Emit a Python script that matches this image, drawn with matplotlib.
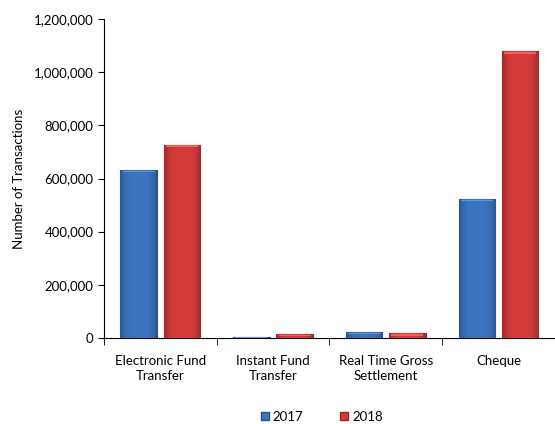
import numpy as np
import matplotlib.pyplot as plt
from matplotlib.colors import to_rgb
from matplotlib.patches import Patch

categories = ["Electronic Fund\nTransfer", "Instant Fund\nTransfer",
              "Real Time Gross\nSettlement", "Cheque"]
years = ["2017", "2018"]
vals_2017 = [632000, 5000, 22000, 523000]
vals_2018 = [727000, 14000, 17000, 1078000]
colors = ["#3b74bf", "#d63b3b"]

plt.rcParams["font.family"] = ["Lato", "DejaVu Sans"]

fig = plt.figure(figsize=(5.55, 4.24), dpi=100)
ax = fig.add_axes([0.187, 0.203, 0.813, 0.752])

x = np.arange(len(categories))
w = 0.322
gap = 0.03


def shaded_bar(xc, h, color):
    base = np.array(to_rgb(color))
    bar = ax.bar(xc, h, w, color=color, edgecolor=base * 0.7, linewidth=0.8, zorder=2)[0]
    # horizontal shading across the bar: dark rims, lighter middle
    t = np.linspace(-1, 1, 64)
    k = 1.0 - 0.28 * np.abs(t) ** 4
    img = np.clip(base[None, :] * k[:, None], 0, 1)[None, :, :]
    im = ax.imshow(img, extent=(xc - w / 2, xc + w / 2, 0, h), aspect="auto",
                   zorder=3, interpolation="bilinear")
    im.set_clip_path(bar)
    # lighter cap at the top
    cap = min(h * 0.5, 6000)
    ax.bar(xc, cap, w * 0.88, bottom=h - cap * 1.4,
           color=np.clip(base + 0.13, 0, 1), linewidth=0, zorder=4)


for i in range(len(categories)):
    shaded_bar(x[i] - w / 2 - gap, vals_2017[i], colors[0])
    shaded_bar(x[i] + w / 2 + gap, vals_2018[i], colors[1])

ax.set_xlim(-0.5, 3.42)
ax.set_ylim(0, 1200000)
ax.set_yticks(np.arange(0, 1200001, 200000))
ax.yaxis.set_major_formatter(lambda v, pos=None: f"{int(v):,}")
ax.set_xticks(x)
ax.set_xticklabels(categories, fontsize=9.5, linespacing=1.35)
ax.set_xticks(np.arange(-0.5, 3.6, 1), minor=True)
ax.tick_params(axis="x", which="major", length=0, pad=12)
ax.tick_params(axis="x", which="minor", length=5, direction="out")
ax.tick_params(axis="y", labelsize=9.5, length=4)
ax.spines["top"].set_visible(False)
ax.spines["right"].set_visible(False)
ax.set_ylabel("Number of Transactions", fontsize=9.5, labelpad=6)

handles = [Patch(facecolor=c, edgecolor=np.array(to_rgb(c)) * 0.7) for c in colors]
fig.legend(handles, years, loc="lower center", ncol=2, frameon=False,
           bbox_to_anchor=(0.58, -0.025), fontsize=9.5, handlelength=0.6,
           handleheight=0.6, columnspacing=2.8, handletextpad=0.3)

fig.savefig("out.png", dpi=100)
